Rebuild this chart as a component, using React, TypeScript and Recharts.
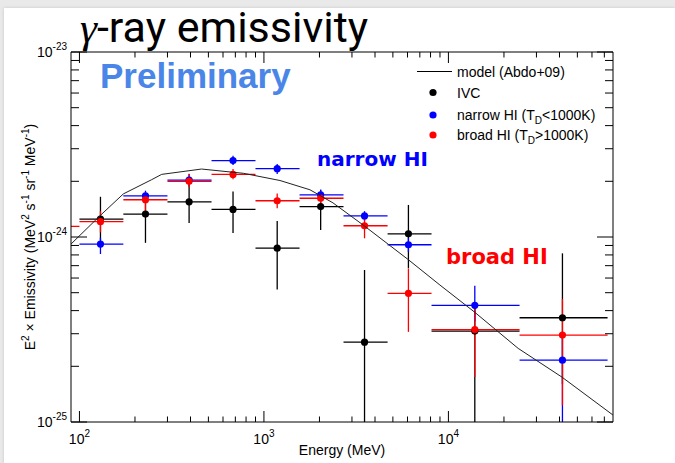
import React from "react";
import { ScatterChart, Scatter, XAxis, YAxis, ErrorBar, Legend } from "recharts";

// energy bins in MeV; the first bin (below 100 MeV) only has a broad HI point
const energy = [76, 130, 228, 393, 680, 1180, 2030, 3510, 6070, 13900, 41500];
const binLow = [58, 100, 173, 300, 520, 900, 1560, 2700, 4680, 8100, 24300];
const binHigh = [100, 173, 300, 520, 900, 1560, 2700, 4680, 8100, 24300, 72900];

// E^2 x emissivity (MeV^2 s^-1 sr^-1 MeV^-1) with lower / upper bounds
const ivc = [null, 1.25e-24, 1.33e-24, 1.55e-24, 1.41e-24, 8.7e-25, 1.46e-24, 2.7e-25, 1.04e-24, 3.1e-25, 3.66e-25];
const ivcLow = [null, 9.6e-25, 9.3e-25, 1.19e-24, 1.05e-24, 5.2e-25, 1.09e-24, 5e-26, 6.8e-25, 5e-26, 1.6e-25];
const ivcHigh = [null, 1.65e-24, 1.69e-24, 1.97e-24, 1.76e-24, 1.22e-24, 1.8e-24, 6.63e-25, 1.49e-24, 4.2e-25, 8.16e-25];

const narrow = [null, 9.16e-25, 1.67e-24, 2.03e-24, 2.59e-24, 2.34e-24, 1.69e-24, 1.3e-24, 9.08e-25, 4.27e-25, 2.16e-25];
const narrowLow = [null, 8.09e-25, 1.55e-24, 1.89e-24, 2.45e-24, 2.19e-24, 1.59e-24, 1.22e-24, 8.3e-25, 3.5e-25, 5e-26];
const narrowHigh = [null, 9.9e-25, 1.78e-24, 2.19e-24, 2.75e-24, 2.48e-24, 1.8e-24, 1.38e-24, 9.9e-25, 5.45e-25, 2.9e-25];

const broad = [1.14e-24, 1.21e-24, 1.59e-24, 2.0e-24, 2.18e-24, 1.57e-24, 1.62e-24, 1.15e-24, 4.96e-25, 3.16e-25, 2.95e-25];
const broadLow = [1.0e-24, 1.06e-24, 1.35e-24, 1.86e-24, 2.05e-24, 1.43e-24, 1.49e-24, 9.84e-25, 3.07e-25, 1.75e-25, 1.23e-25];
const broadHigh = [1.3e-24, 1.38e-24, 1.75e-24, 2.2e-24, 2.33e-24, 1.72e-24, 1.76e-24, 1.32e-24, 6.77e-25, 4.2e-25, 4.62e-25];

// model curve (Abdo+09)
const modelEnergy = [90, 130, 173, 246, 279, 459, 773, 1222, 1776, 2366, 3453, 6034, 8995, 13800, 23880, 41200, 78000];
const modelValue = [9.16e-25, 1.31e-24, 1.71e-24, 2.04e-24, 2.18e-24, 2.33e-24, 2.21e-24, 2.02e-24, 1.8e-24, 1.53e-24, 1.16e-24, 7.57e-25, 5.5e-25, 3.94e-25, 2.5e-25, 1.75e-25, 1.09e-25];

// axis ticks
const xTicks = [100, 200, 300, 400, 500, 600, 700, 800, 900, 1000, 2000, 3000, 4000, 5000, 6000, 7000, 8000, 9000, 10000, 20000, 30000, 40000, 50000, 60000, 70000];
const xMajor = [100, 1000, 10000];
const xMajorExp = ["2", "3", "4"];
const yTicks = [1e-25, 2e-25, 3e-25, 4e-25, 5e-25, 6e-25, 7e-25, 8e-25, 9e-25, 1e-24, 2e-24, 3e-24, 4e-24, 5e-24, 6e-24, 7e-24, 8e-24, 9e-24, 1e-23];
const yMajor = [1e-25, 1e-24, 1e-23];
const yMajorExp = ["-25", "-24", "-23"];

const ROOT_FONT = "'Liberation Sans', Arial, Helvetica, sans-serif";

// plot frame inside the 675x463 surface
const FRAME = { left: 71, top: 52, right: 613, bottom: 422 };

type Pt = { e: number; v: number; ex: number[]; ey: number[] };

function buildPoints(val: (number | null)[], lo: (number | null)[], hi: (number | null)[]): Pt[] {
  const out: Pt[] = [];
  energy.forEach((e, i) => {
    const v = val[i];
    if (v == null) return;
    out.push({
      e,
      v,
      ex: [e - binLow[i], binHigh[i] - e],
      ey: [v - (lo[i] as number), (hi[i] as number) - v],
    });
  });
  return out;
}

const ivcData = buildPoints(ivc, ivcLow, ivcHigh);
const narrowData = buildPoints(narrow, narrowLow, narrowHigh);
const broadData = buildPoints(broad, broadLow, broadHigh);
const modelData = modelEnergy.map((e, i) => ({ e, v: modelValue[i] }));

// ROOT style ticks: drawn inside the frame, majors twice as long
const BottomTick = ({ x, y, payload }: any) => {
  const i = xMajor.indexOf(payload.value);
  const len = i >= 0 ? 11 : 5.5;
  return (
    <g>
      <line x1={x} x2={x} y1={y} y2={y - len} stroke="#000" strokeWidth={1} />
      {i >= 0 && (
        <text x={x} y={y + 22} textAnchor="middle" fontSize={14} fontFamily={ROOT_FONT} fill="#000">
          10<tspan fontSize={10} dy={-7}>{xMajorExp[i]}</tspan>
        </text>
      )}
    </g>
  );
};

const TopTick = ({ x, y, payload }: any) => {
  const len = xMajor.includes(payload.value) ? 11 : 5.5;
  return <line x1={x} x2={x} y1={y} y2={y + len} stroke="#000" strokeWidth={1} />;
};

const LeftTick = ({ x, y, payload }: any) => {
  const i = yMajor.indexOf(payload.value);
  const len = i >= 0 ? 16 : 8;
  return (
    <g>
      <line x1={x} x2={x + len} y1={y} y2={y} stroke="#000" strokeWidth={1} />
      {i >= 0 && (
        <text x={x - 4} y={y + 5} textAnchor="end" fontSize={14} fontFamily={ROOT_FONT} fill="#000">
          10<tspan fontSize={10} dy={-7}>{yMajorExp[i]}</tspan>
        </text>
      )}
    </g>
  );
};

const RightTick = ({ x, y, payload }: any) => {
  const len = yMajor.includes(payload.value) ? 16 : 8;
  return <line x1={x} x2={x - len} y1={y} y2={y} stroke="#000" strokeWidth={1} />;
};

const dot = (color: string) => (p: any) => <circle cx={p.cx} cy={p.cy} r={3.6} fill={color} />;

const LegendBox = () => (
  <svg width={210} height={90} style={{ display: "block" }}>
    <g fontFamily={ROOT_FONT} fontSize={14} fill="#000">
      <line x1={7} x2={42} y1={13.5} y2={13.5} stroke="#000" strokeWidth={1} />
      <text x={47} y={18.5}>model (Abdo+09)</text>
      <circle cx={23} cy={34.5} r={3.6} fill="#000" />
      <text x={47} y={39.5}>IVC</text>
      <circle cx={23} cy={57} r={3.6} fill="#0000ff" />
      <text x={47} y={62}>
        narrow HI (T<tspan fontSize={10} dy={4}>D</tspan>
        <tspan dy={-4}>&lt;1000K)</tspan>
      </text>
      <circle cx={23} cy={77} r={3.6} fill="#ff0000" />
      <text x={47} y={82}>
        broad HI (T<tspan fontSize={10} dy={4}>D</tspan>
        <tspan dy={-4}>&gt;1000K)</tspan>
      </text>
    </g>
  </svg>
);

// axes need a non-zero size or they are skipped; 1px each
const axisCommon = {
  tickSize: 0,
  tickMargin: 0,
  tickLine: false,
  axisLine: { stroke: "#000", strokeWidth: 1 },
  allowDataOverflow: true,
  interval: 0 as const,
};

// keep points and error bars that fall outside the axis ranges inside the frame
const clipCss = `
  .plot-data, .recharts-errorBars, .recharts-errorBar { clip-path: url(#plot-frame-clip); }
`;

export default function App() {
  return (
    <div style={{ position: "absolute", left: 0, top: 0, width: 675, height: 463, background: "#e9e9e9", overflow: "hidden" }}>
      <style>{clipCss}</style>
      <svg width={0} height={0} style={{ position: "absolute" }}>
        <defs>
          <clipPath id="plot-frame-clip" clipPathUnits="userSpaceOnUse">
            <rect x={FRAME.left} y={FRAME.top} width={FRAME.right - FRAME.left} height={FRAME.bottom - FRAME.top} />
          </clipPath>
        </defs>
      </svg>
      <div style={{ position: "absolute", left: 4, top: 8, width: 671, height: 455, background: "#fff", boxShadow: "0 0 3px rgba(0,0,0,0.15)" }} />
      <ScatterChart
        width={675}
        height={463}
        margin={{ top: FRAME.top - 1, right: 675 - FRAME.right - 1, bottom: 463 - FRAME.bottom - 1, left: FRAME.left - 1 }}
        style={{ position: "absolute", left: 0, top: 0 }}
      >
        <XAxis
          xAxisId="bottom"
          type="number"
          dataKey="e"
          scale="log"
          domain={[90, 78000]}
          ticks={xTicks}
          height={1}
          tick={(p: any) => <BottomTick {...p} />}
          {...axisCommon}
        />
        <XAxis
          xAxisId="top"
          orientation="top"
          type="number"
          dataKey="e"
          scale="log"
          domain={[90, 78000]}
          ticks={xTicks}
          height={1}
          tick={(p: any) => <TopTick {...p} />}
          {...axisCommon}
        />
        <YAxis
          yAxisId="left"
          type="number"
          dataKey="v"
          scale="log"
          domain={[1e-25, 1e-23]}
          ticks={yTicks}
          width={1}
          tick={(p: any) => <LeftTick {...p} />}
          {...axisCommon}
        />
        <YAxis
          yAxisId="right"
          orientation="right"
          type="number"
          dataKey="v"
          scale="log"
          domain={[1e-25, 1e-23]}
          ticks={yTicks}
          width={1}
          tick={(p: any) => <RightTick {...p} />}
          {...axisCommon}
        />
        <Scatter className="plot-data" xAxisId="bottom" yAxisId="left" name="IVC" data={ivcData} fill="#000" shape={dot("#000")} isAnimationActive={false}>
          <ErrorBar dataKey="ex" direction="x" width={0} stroke="#000" strokeWidth={1.3} />
          <ErrorBar dataKey="ey" direction="y" width={0} stroke="#000" strokeWidth={1.3} />
        </Scatter>
        <Scatter className="plot-data" xAxisId="bottom" yAxisId="left" name="narrow HI" data={narrowData} fill="#0000ff" shape={dot("#0000ff")} isAnimationActive={false}>
          <ErrorBar dataKey="ex" direction="x" width={0} stroke="#0000ff" strokeWidth={1.3} />
          <ErrorBar dataKey="ey" direction="y" width={0} stroke="#0000ff" strokeWidth={1.3} />
        </Scatter>
        <Scatter className="plot-data" xAxisId="bottom" yAxisId="left" name="broad HI" data={broadData} fill="#ff0000" shape={dot("#ff0000")} isAnimationActive={false}>
          <ErrorBar dataKey="ex" direction="x" width={0} stroke="#ff0000" strokeWidth={1.3} />
          <ErrorBar dataKey="ey" direction="y" width={0} stroke="#ff0000" strokeWidth={1.3} />
        </Scatter>
        <Scatter
          className="plot-data"
          xAxisId="bottom"
          yAxisId="left"
          name="model (Abdo+09)"
          data={modelData}
          line={{ stroke: "#222", strokeWidth: 1 }}
          shape={() => <g />}
          isAnimationActive={false}
        />
        <Legend
          layout="vertical"
          align="center"
          verticalAlign="middle"
          wrapperStyle={{ left: 410, top: 58, width: 210, height: 90 }}
          content={() => <LegendBox />}
        />
      </ScatterChart>
      <svg width={675} height={463} style={{ position: "absolute", left: 0, top: 0, pointerEvents: "none" }}>
        <text x={80} y={42} fontSize={43} fontFamily="Roboto, 'Noto Sans', sans-serif" fill="#000">
          <tspan fontFamily="'Liberation Serif', 'DejaVu Serif', serif" fontStyle="italic">γ</tspan>-ray emissivity
        </text>
        <text x={100} y={88} fontSize={35} fontWeight="bold" fontFamily="'Liberation Sans', Arial, sans-serif" fill="#4a86e8">
          Preliminary
        </text>
        <text x={317} y={166} fontSize={20} fontWeight="bold" fontFamily="'DejaVu Sans', Verdana, sans-serif" fill="#0000ff">
          narrow HI
        </text>
        <text x={446} y={264} fontSize={21} fontWeight="bold" fontFamily="'DejaVu Sans', Verdana, sans-serif" fill="#ff0000">
          broad HI
        </text>
        <text x={342} y={455} textAnchor="middle" fontSize={14} fontFamily={ROOT_FONT} fill="#000">
          Energy (MeV)
        </text>
        <text transform="translate(35,237) rotate(-90)" textAnchor="middle" fontSize={14} fontFamily={ROOT_FONT} fill="#000">
          E<tspan fontSize={10} dy={-6}>2</tspan>
          <tspan dy={6}> × Emissivity (MeV</tspan>
          <tspan fontSize={10} dy={-6}>2</tspan>
          <tspan dy={6}> s</tspan>
          <tspan fontSize={10} dy={-6}>-1</tspan>
          <tspan dy={6}> sr</tspan>
          <tspan fontSize={10} dy={-6}>-1</tspan>
          <tspan dy={6}> MeV</tspan>
          <tspan fontSize={10} dy={-6}>-1</tspan>
          <tspan dy={6}>)</tspan>
        </text>
      </svg>
    </div>
  );
}
